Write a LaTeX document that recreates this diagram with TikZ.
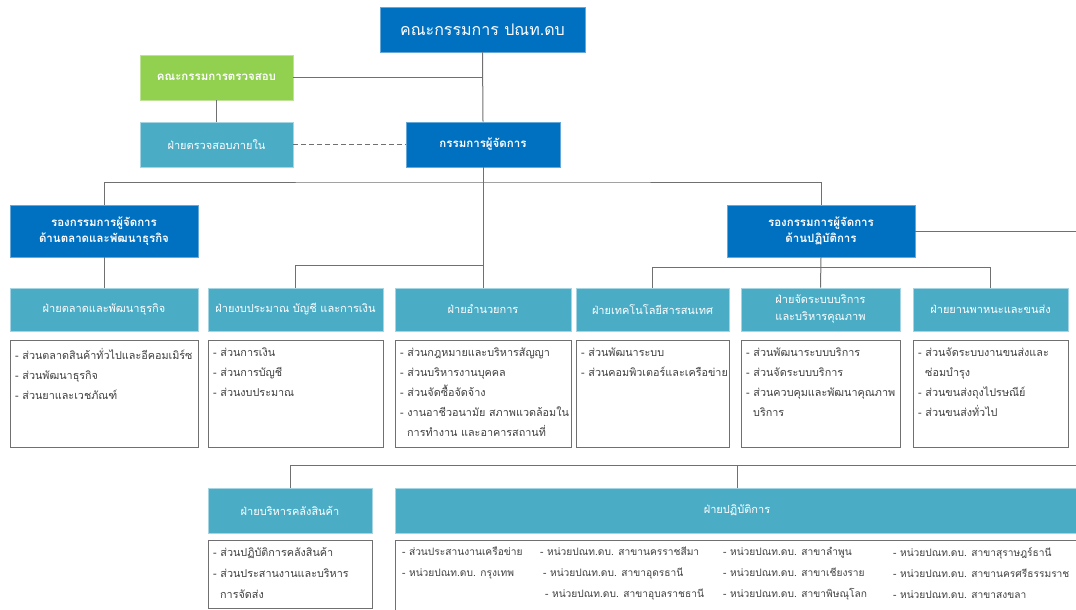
\documentclass[tikz,border=0pt]{standalone}
\usepackage{fontspec}
\setmainfont[Script=Thai]{Loma}
\definecolor{cblue}{HTML}{0070C0}
\definecolor{cteal}{HTML}{4BACC6}
\definecolor{cgreen}{HTML}{92D050}
\definecolor{cline}{HTML}{707070}
\definecolor{ctext}{HTML}{404040}
\tikzset{
  bluebox/.style={fill=cblue, draw=cblue!60!white, line width=0.8pt, text=white, font=\fontsize{11.5}{16}\selectfont\bfseries, align=center, inner sep=0pt},
  tealbox/.style={fill=cteal, draw=cteal!50!white, line width=0.8pt, text=white, font=\fontsize{11}{17}\selectfont, align=center, inner sep=0pt},
  greenbox/.style={fill=cgreen, draw=cgreen!60!white, line width=0.8pt, text=white, font=\fontsize{11.5}{15}\selectfont\bfseries, align=center, inner sep=0pt},
  subbox/.style={fill=white, draw=cline, line width=1pt, inner sep=0pt},
  subtext/.style={anchor=north west, align=left, text=ctext, font=\fontsize{10.8}{20}\selectfont, inner sep=0pt},
  opstext/.style={subtext, font=\fontsize{10.2}{21}\selectfont},
  conn/.style={draw=cline, line width=1pt},
}
\begin{document}
\begin{tikzpicture}[x=1pt,y=-1pt]
\useasboundingbox (0,0) rectangle (1076,610);
\clip (0,0) rectangle (1076,610);

% top level
\node[bluebox, minimum width=205, minimum height=45, font=\fontsize{16}{18}\selectfont] (board) at (482.5,29.5) {คณะกรรมการ ปณท.ดบ};
\node[greenbox, minimum width=153, minimum height=45] (audit) at (216.5,77.5) {คณะกรรมการตรวจสอบ};
\node[tealbox, minimum width=153, minimum height=45] (internal) at (216.5,144.5) {ฝ่ายตรวจสอบภายใน};
\node[bluebox, minimum width=154, minimum height=45] (md) at (483,144.5) {กรรมการผู้จัดการ};

% VPs
\node[bluebox, minimum width=188, minimum height=52] (vpm) at (104,231) {รองกรรมการผู้จัดการ\\ด้านตลาดและพัฒนาธุรกิจ};
\node[bluebox, minimum width=188, minimum height=52] (vpo) at (821,231) {รองกรรมการผู้จัดการ\\ด้านปฏิบัติการ};

% divisions
\node[tealbox, minimum width=188, minimum height=43] (dmkt) at (104,309.5) {ฝ่ายตลาดและพัฒนาธุรกิจ};
\node[tealbox, minimum width=175, minimum height=43] (dfin) at (295.5,309.5) {ฝ่ายงบประมาณ บัญชี และการเงิน};
\node[tealbox, minimum width=176, minimum height=43] (dadm) at (483,309.5) {ฝ่ายอำนวยการ};
\node[tealbox, minimum width=153, minimum height=43] (dit) at (652.5,309.5) {ฝ่ายเทคโนโลยีสารสนเทศ};
\node[tealbox, minimum width=159, minimum height=43] (dsvc) at (820.5,309.5) {ฝ่ายจัดระบบบริการ\\และบริหารคุณภาพ};
\node[tealbox, minimum width=155, minimum height=43] (dtrn) at (990.5,309.5) {ฝ่ายยานพาหนะและขนส่ง};

% sub boxes row 1
\node[subbox, minimum width=188, minimum height=107] (smkt) at (104,393.5) {};
\node[subbox, minimum width=175, minimum height=107] (sfin) at (295.5,393.5) {};
\node[subbox, minimum width=176, minimum height=107] (sadm) at (483,393.5) {};
\node[subbox, minimum width=153, minimum height=107] (sit) at (652.5,393.5) {};
\node[subbox, minimum width=159, minimum height=107] (ssvc) at (820.5,393.5) {};
\node[subbox, minimum width=155, minimum height=107] (strn) at (990.5,393.5) {};

\node[subtext] (tmkt) at (15,348) {- ส่วนตลาดสินค้าทั่วไปและอีคอมเมิร์ซ\\- ส่วนพัฒนาธุรกิจ\\- ส่วนยาและเวชภัณฑ์};
\node[subtext] (tfin) at (213,348) {- ส่วนการเงิน\\- ส่วนการบัญชี\\- ส่วนงบประมาณ};
\node[subtext] (tadm) at (400,348) {- ส่วนกฎหมายและบริหารสัญญา\\- ส่วนบริหารงานบุคคล\\- ส่วนจัดซื้อจัดจ้าง\\- งานอาชีวอนามัย สภาพแวดล้อมใน\\\hspace*{7pt}การทำงาน และอาคารสถานที่};
\node[subtext] (tit) at (581,348) {- ส่วนพัฒนาระบบ\\- ส่วนคอมพิวเตอร์และเครือข่าย};
\node[subtext] (tsvc) at (746,348) {- ส่วนพัฒนาระบบบริการ\\- ส่วนจัดระบบบริการ\\- ส่วนควบคุมและพัฒนาคุณภาพ\\\hspace*{7pt}บริการ};
\node[subtext] (ttrn) at (918,348) {- ส่วนจัดระบบงานขนส่งและ\\\hspace*{7pt}ซ่อมบำรุง\\- ส่วนขนส่งถุงไปรษณีย์\\- ส่วนขนส่งทั่วไป};

% third row
\node[tealbox, minimum width=164, minimum height=45] (dwh) at (290,510.5) {ฝ่ายบริหารคลังสินค้า};
\node[tealbox, minimum width=684, minimum height=45] (dops) at (737,510.5) {ฝ่ายปฏิบัติการ};
\node[subbox, minimum width=164, minimum height=68] (swh) at (290,574) {};
\node[subbox, minimum width=684, minimum height=80] (sops) at (737,580) {};

\node[subtext, font=\fontsize{10.8}{21}\selectfont] (twh) at (213,547) {- ส่วนปฏิบัติการคลังสินค้า\\- ส่วนประสานงานและบริหาร\\\hspace*{7pt}การจัดส่ง};
\node[opstext] (tops1) at (402,547) {- ส่วนประสานงานเครือข่าย\\- หน่วยปณท.ดบ. กรุงเทพ};
\node[opstext] (tops2) at (540,547) {- หน่วยปณท.ดบ. สาขานครราชสีมา\\\hspace*{3pt}- หน่วยปณท.ดบ. สาขาอุดรธานี\\\hspace*{5pt}- หน่วยปณท.ดบ. สาขาอุบลราชธานี};
\node[opstext] (tops3) at (723,547) {- หน่วยปณท.ดบ. สาขาลำพูน\\- หน่วยปณท.ดบ. สาขาเชียงราย\\- หน่วยปณท.ดบ. สาขาพิษณุโลก};
\node[opstext] (tops4) at (893,547) {- หน่วยปณท.ดบ. สาขาสุราษฎร์ธานี\\- หน่วยปณท.ดบ. สาขานครศรีธรรมราช\\- หน่วยปณท.ดบ. สาขาสงขลา};

% helper coordinates
\coordinate (rightA) at (1090,231);
\coordinate (rightB) at (1090,465);
\coordinate (hvp) at (483,182);
\coordinate (hfin) at (483,265);
\coordinate (hops) at (990.5,267);
\coordinate (hrow3) at (737,465);

% connectors
\draw[conn] (board.south) -- (md.north);
\draw[conn] (audit.east) -- (audit.east -| board.south);
\draw[conn] (audit.south) -- (internal.north);
\draw[conn, dash pattern=on 5pt off 3pt] (internal.east) -- (md.west);
\draw[conn] (md.south) -- (dadm.north);
\draw[conn] (vpm.north) |- (hvp) -| (vpo.north);
\draw[conn] (dfin.north) |- (hfin);
\draw[conn] (vpm.south) -- (dmkt.north);
\draw[conn] (vpo.south) -- (dsvc.north);
\draw[conn] (dit.north) |- (hops) -- (dtrn.north);
\draw[conn] (vpo.east) -- (rightA);
\draw[conn] (dwh.north) |- (rightB);
\draw[conn] (dops.north) -- (hrow3);
\end{tikzpicture}
\end{document}
